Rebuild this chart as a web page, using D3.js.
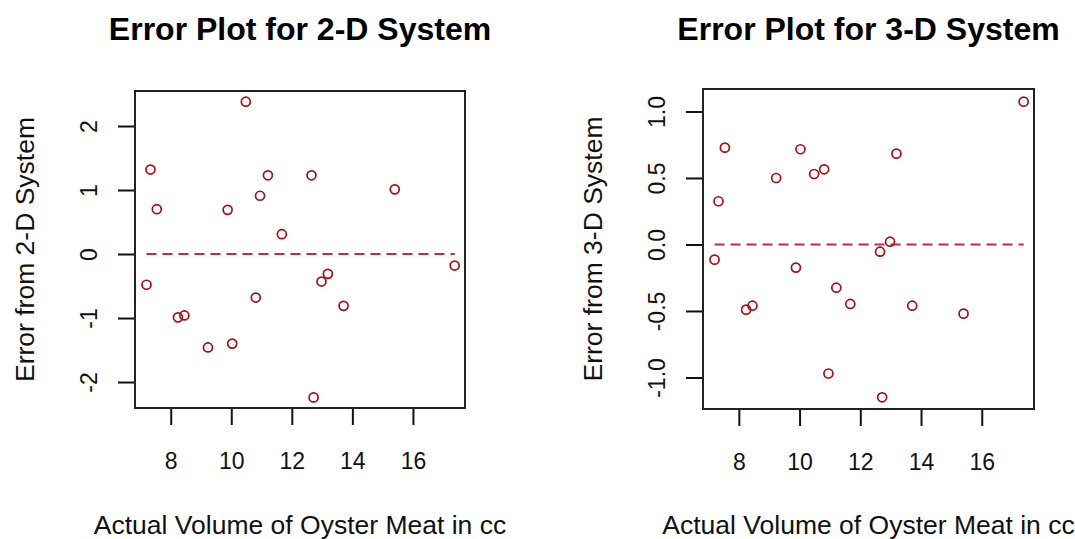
<!DOCTYPE html>
<html>
<head>
<meta charset="utf-8">
<script src="https://cdn.jsdelivr.net/npm/d3@7"></script>
<style>
  body { margin: 0; background: #fff; }
  svg { display: block; font-family: "Liberation Sans", Arial, sans-serif; }
</style>
</head>
<body>
<div id="chart"></div>
<script>
// actual oyster meat volume (cc), shared by both panels
var volume = [7.2, 7.33, 7.54, 8.24, 8.45, 9.23, 9.88, 10.03, 10.48, 10.81,
              10.95, 11.21, 11.67, 12.65, 12.72, 12.98, 13.19, 13.71, 15.4, 17.38];

// error of each system against actual volume
var error2D = [-0.48, 1.32, 0.70, -0.99, -0.96, -1.46, 0.69, -1.40, 2.38, -0.68,
               0.91, 1.23, 0.31, 1.23, -2.24, -0.43, -0.31, -0.81, 1.01, -0.18];
var error3D = [-0.114, 0.325, 0.728, -0.49, -0.46, 0.50, -0.174, 0.716, 0.53, 0.565,
               -0.97, -0.325, -0.447, -0.054, -1.149, 0.021, 0.683, -0.46, -0.52, 1.074];

var xTicks = [8, 10, 12, 14, 16];
var yTicks2D = [-2, -1, 0, 1, 2];
var yTicks3D = [-1.0, -0.5, 0.0, 0.5, 1.0];

var width = 1075;
var height = 539;

var svg = d3.select("#chart")
  .append("svg")
  .attr("width", width)
  .attr("height", height);

var panels = [
  {
    title: "Error Plot for 2-D System",
    ylab: "Error from 2-D System",
    errors: error2D,
    yTicks: yTicks2D,
    fmt: function(d) { return String(d); },
    box: {left: 135, right: 465, top: 91, bottom: 408},
    yDomain: [-2.406, 2.547]
  },
  {
    title: "Error Plot for 3-D System",
    ylab: "Error from 3-D System",
    errors: error3D,
    yTicks: yTicks3D,
    fmt: function(d) { return d.toFixed(1); },
    box: {left: 703, right: 1034, top: 89, bottom: 409},
    yDomain: [-1.237, 1.169]
  }
];

var pointColor = "#a80c14";
var lineColor = "#cc2440";
var tickLen = 16;
var tickFont = 23;

panels.forEach(function(p) {
  var b = p.box;
  var xScale = d3.scaleLinear().domain([6.82, 17.72]).range([b.left, b.right]);
  var yScale = d3.scaleLinear().domain(p.yDomain).range([b.bottom, b.top]);
  var cx = (b.left + b.right) / 2;
  var cy = (b.top + b.bottom) / 2;

  // title
  svg.append("text")
    .attr("x", cx)
    .attr("y", 40)
    .attr("text-anchor", "middle")
    .attr("font-size", 32)
    .attr("font-weight", "bold")
    .text(p.title);

  // x axis
  var xAxis = d3.axisBottom(xScale)
    .tickValues(xTicks)
    .tickSize(tickLen)
    .tickPadding(28)
    .tickFormat(function(d) { return String(d); });

  var gx = svg.append("g")
    .attr("transform", "translate(0," + (b.bottom + 1) + ")")
    .call(xAxis);
  gx.select(".domain").remove();
  gx.selectAll("line").attr("stroke", "#111").attr("stroke-width", 2);
  gx.selectAll("text")
    .attr("font-size", tickFont)
    .attr("font-family", "Liberation Sans, Arial, sans-serif")
    .attr("fill", "#111");

  // y axis, labels rotated like R's default
  var yAxis = d3.axisLeft(yScale)
    .tickValues(p.yTicks)
    .tickSize(tickLen)
    .tickFormat(p.fmt);

  var gy = svg.append("g")
    .attr("transform", "translate(" + (b.left - 1) + ",0)")
    .call(yAxis);
  gy.select(".domain").remove();
  gy.selectAll("line").attr("stroke", "#111").attr("stroke-width", 2);
  gy.selectAll("text")
    .attr("font-size", tickFont)
    .attr("font-family", "Liberation Sans, Arial, sans-serif")
    .attr("fill", "#111")
    .attr("x", null)
    .attr("dy", null)
    .attr("text-anchor", "middle")
    .attr("transform", "translate(" + (-tickLen - 21) + ",0) rotate(-90)");

  // box
  svg.append("rect")
    .attr("x", b.left)
    .attr("y", b.top)
    .attr("width", b.right - b.left)
    .attr("height", b.bottom - b.top)
    .attr("fill", "none")
    .attr("stroke", "#222")
    .attr("stroke-width", 2);

  // zero reference line across the data range
  svg.append("line")
    .attr("x1", xScale(d3.min(volume)))
    .attr("x2", xScale(d3.max(volume)))
    .attr("y1", yScale(0))
    .attr("y2", yScale(0))
    .attr("stroke", lineColor)
    .attr("stroke-width", 2.2)
    .attr("stroke-dasharray", "10,6");

  // points
  svg.append("g")
    .selectAll("circle")
    .data(volume)
    .enter()
    .append("circle")
    .attr("cx", function(d) { return xScale(d); })
    .attr("cy", function(d, i) { return yScale(p.errors[i]); })
    .attr("r", 4.5)
    .attr("fill", "none")
    .attr("stroke", pointColor)
    .attr("stroke-width", 1.7);

  // axis titles
  svg.append("text")
    .attr("x", cx)
    .attr("y", 534)
    .attr("text-anchor", "middle")
    .attr("font-size", 26.5)
    .attr("fill", "#111")
    .text("Actual Volume of Oyster Meat in cc");

  svg.append("text")
    .attr("transform", "translate(" + (b.left - 101) + "," + cy + ") rotate(-90)")
    .attr("text-anchor", "middle")
    .attr("font-size", 26.5)
    .attr("fill", "#111")
    .text(p.ylab);
});
</script>
</body>
</html>
